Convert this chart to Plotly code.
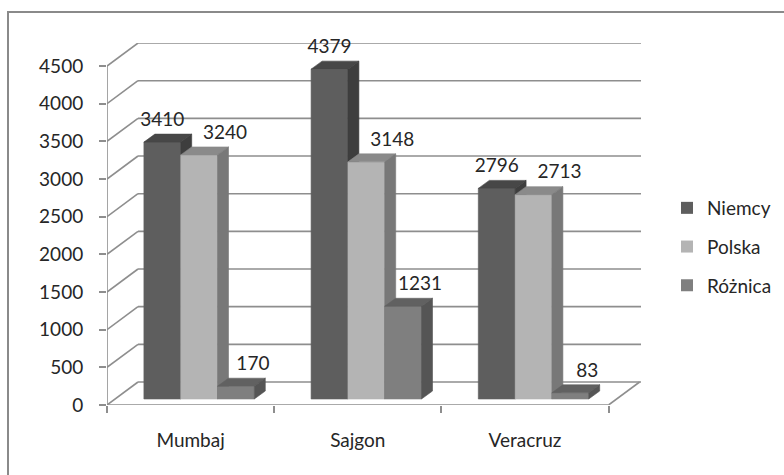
import plotly.graph_objects as go

# ---------------- data ----------------
categories = ["Mumbaj", "Sajgon", "Veracruz"]
series_names = ["Niemcy", "Polska", "Różnica"]
niemcy = [3410, 4379, 2796]
polska = [3240, 3148, 2713]
roznica = [170, 1231, 83]
y_ticks = [0, 500, 1000, 1500, 2000, 2500, 3000, 3500, 4000, 4500]
series_values = [niemcy, polska, roznica]

# ---------------- style ----------------
front_colors = ["#5e5e5e", "#b4b4b4", "#7f7f7f"]
top_colors = ["#474747", "#8a8a8a", "#616161"]
side_colors = ["#3e3e3e", "#787878", "#555555"]
label_dx_px = [0, 26, 17]
GRID = "#8e8e8e"
TEXT = "#262626"
FONT = "Lato"
FS = 19

W, H = 784, 475
ML, MR, MT, MB = 107, 143, 43, 70
PX_PER_CAT = 167.2
PX_PER_UNIT = 0.07533
plot_w = W - ML - MR
plot_h = H - MT - MB
x_range = [-0.5, -0.5 + plot_w / PX_PER_CAT]
y_range = [0, plot_h / PX_PER_UNIT]


def dx(px):
    return px / PX_PER_CAT


def dy(px):
    return px / PX_PER_UNIT


def px_x(px):
    return (px - ML) / plot_w


def px_y(py):
    return 1 - (py - MT) / plot_h


WALL_DX, WALL_DY = dx(31), dy(23)
FRONT_DX, FRONT_DY = dx(8.5), dy(6)
BAR_DX, BAR_DY = dx(11), dy(8)
BAR_W = dx(36.8)
n_series = len(series_values)

fig = go.Figure()

# bars as faux-3D prisms
for s, vals in enumerate(series_values):
    fx, fy, tx, ty, sx, sy = [], [], [], [], [], []
    for c, v in enumerate(vals):
        x0 = c + FRONT_DX - n_series / 2 * BAR_W + s * BAR_W
        x1 = x0 + BAR_W
        b = FRONT_DY
        t = b + v
        fx += [x0, x1, x1, x0, x0, None]
        fy += [b, b, t, t, b, None]
        tx += [x0, x1, x1 + BAR_DX, x0 + BAR_DX, x0, None]
        ty += [t, t, t + BAR_DY, t + BAR_DY, t, None]
        sx += [x1, x1 + BAR_DX, x1 + BAR_DX, x1, x1, None]
        sy += [b, b + BAR_DY, t + BAR_DY, t, b, None]
    for xs, ys, col in ((fx, fy, front_colors[s]), (tx, ty, top_colors[s]), (sx, sy, side_colors[s])):
        fig.add_trace(go.Scatter(x=xs, y=ys, mode="lines", fill="toself", fillcolor=col,
                                 line=dict(color=col, width=0.6), hoverinfo="skip",
                                 showlegend=False))

# data labels
for s, vals in enumerate(series_values):
    lx, ly, lt = [], [], []
    for c, v in enumerate(vals):
        x0 = c + FRONT_DX - n_series / 2 * BAR_W + s * BAR_W
        lx.append(x0 + BAR_W / 2 + dx(label_dx_px[s]))
        ly.append(FRONT_DY + v + dy(21))
        lt.append(str(v))
    fig.add_trace(go.Scatter(x=lx, y=ly, mode="text", text=lt, textposition="middle center",
                             textfont=dict(family=FONT, size=FS, color=TEXT),
                             cliponaxis=False, hoverinfo="skip", showlegend=False))

# legend entries
for s, name in enumerate(series_names):
    fig.add_trace(go.Scatter(x=[None], y=[None], mode="markers", name=name,
                             legendgroup=name,
                             marker=dict(symbol="square", size=12, color=front_colors[s])))

# walls / floor / gridlines
shapes = []
for v in y_ticks:
    shapes.append(dict(type="line", xref="x", yref="y", x0=-0.5 + WALL_DX, x1=x_range[1],
                       y0=v + WALL_DY, y1=v + WALL_DY, line=dict(color=GRID, width=1.6), layer="below"))
    shapes.append(dict(type="line", xref="x", yref="y", x0=-0.5, x1=-0.5 + WALL_DX,
                       y0=v, y1=v + WALL_DY, line=dict(color=GRID, width=1.6), layer="below"))
shapes.append(dict(type="line", xref="x", yref="y", x0=-0.5, x1=-0.5, y0=0, y1=y_ticks[-1],
                   line=dict(color=GRID, width=1.6), layer="below"))
shapes.append(dict(type="line", xref="x", yref="y", x0=-0.5, x1=len(categories) - 0.5, y0=0, y1=0,
                   line=dict(color=GRID, width=1.6), layer="below"))
shapes.append(dict(type="line", xref="x", yref="y", x0=len(categories) - 0.5,
                   x1=len(categories) - 0.5 + WALL_DX, y0=0, y1=WALL_DY,
                   line=dict(color=GRID, width=1.6), layer="below"))
# chart frame
shapes.append(dict(type="rect", xref="paper", yref="paper", x0=px_x(8), x1=px_x(800),
                   y0=px_y(12), y1=px_y(495), line=dict(color="#8a8a8a", width=2)))

fig.update_layout(
    width=W, height=H,
    margin=dict(l=ML, r=MR, t=MT, b=MB, autoexpand=False),
    paper_bgcolor="white", plot_bgcolor="white",
    font=dict(family=FONT, size=FS, color=TEXT),
    shapes=shapes,
    showlegend=True,
    legend=dict(x=px_x(667), xanchor="left", y=px_y(247), yanchor="middle",
                tracegroupgap=11, font=dict(family=FONT, size=FS, color=TEXT),
                bgcolor="rgba(0,0,0,0)"),
    xaxis=dict(range=x_range, tickmode="array", tickvals=list(range(len(categories))),
               ticktext=categories, ticks="", showgrid=False, zeroline=False, showline=False,
               ticklabelstandoff=22,
               minor=dict(tickmode="array",
                          tickvals=[i - 0.5 for i in range(len(categories) + 1)],
                          ticks="outside", ticklen=7, tickwidth=1.6, tickcolor=GRID,
                          showgrid=False),
               fixedrange=True),
    yaxis=dict(range=y_range, tickmode="array", tickvals=y_ticks,
               ticktext=[str(v) for v in y_ticks], ticks="outside", ticklen=7,
               tickwidth=1.6, tickcolor=GRID, showgrid=False, zeroline=False, showline=False,
               ticklabelstandoff=12, fixedrange=True),
)

fig.write_html("out.html", config={"displayModeBar": False},
               post_script="document.body.style.margin='0';document.body.style.overflow='hidden';")
